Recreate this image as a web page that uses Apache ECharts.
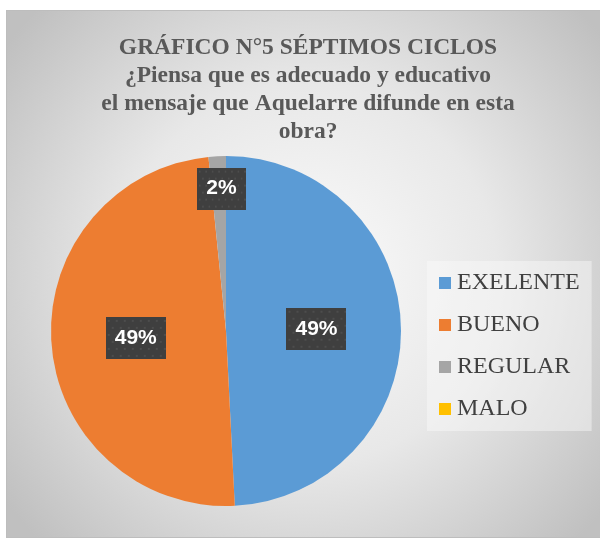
<!DOCTYPE html>
<html>
<head>
<meta charset="utf-8">
<script src="https://cdn.jsdelivr.net/npm/echarts@6/dist/echarts.min.js"></script>
<style>
html,body{margin:0;padding:0;background:#ffffff;width:600px;height:542px;overflow:hidden;}
#chart{position:absolute;left:6px;top:10px;width:604px;height:528px;border:1px solid #bdbdbd;box-sizing:border-box;}
</style>
</head>
<body>
<div id="chart"></div>
<script>
var titleLines = ['GRÁFICO N°5 SÉPTIMOS CICLOS', '¿Piensa que es adecuado y educativo', 'el mensaje que Aquelarre difunde en esta', 'obra?'];
var categories = ['EXELENTE', 'BUENO', 'REGULAR', 'MALO'];
var values = [49.2, 49.2, 1.6, 0];
var colors = ['#5B9BD5', '#ED7D31', '#A5A5A5', '#FFC000'];

function makePattern(w, h) {
  var c = document.createElement('canvas');
  c.width = w; c.height = h;
  var ctx = c.getContext('2d');
  ctx.fillStyle = '#3f3f3f';
  ctx.fillRect(0, 0, w, h);
  ctx.fillStyle = '#4d4d4d';
  for (var y = 3, r = 0; y < h; y += 7, r++) {
    for (var x = (r % 2 ? 6 : 2); x < w; x += 8) {
      ctx.fillRect(x, y, 2, 2);
    }
  }
  return c;
}
var pattern = makePattern(60, 42);

var chart = echarts.init(document.getElementById('chart'), null, {renderer: 'canvas'});

var data = categories.map(function (name, i) {
  var item = {name: name, value: values[i], itemStyle: {color: colors[i]}};
  if (values[i] === 0) item.label = {show: false};
  if (i === 2) item.label = {offset: [0, -52]};
  return item;
});

chart.setOption({
  backgroundColor: {
    type: 'radial', x: 0.5, y: 0.5, r: 0.72,
    colorStops: [
      {offset: 0, color: '#fbfbfb'},
      {offset: 0.5, color: '#e8e8e8'},
      {offset: 1, color: '#c0c0c0'}
    ]
  },
  animation: false,
  title: {
    text: titleLines.join('\n'),
    left: 'center',
    top: 18,
    textStyle: {
      fontFamily: 'Liberation Serif',
      fontWeight: 'bold',
      fontSize: 23.5,
      lineHeight: 28,
      color: '#595959'
    }
  },
  legend: {
    orient: 'vertical',
    left: 420,
    top: 250,
    padding: [10, 12, 10, 12],
    backgroundColor: 'rgba(250,250,250,0.45)',
    itemWidth: 12,
    itemHeight: 12,
    itemGap: 18,
    icon: 'rect',
    data: categories,
    textStyle: {
      fontFamily: 'Liberation Serif',
      fontSize: 24,
      lineHeight: 24,
      color: '#404040',
      padding: [0, 0, 0, 1]
    }
  },
  series: [{
    type: 'pie',
    center: [219, 320],
    radius: [0, 175],
    startAngle: 90,
    clockwise: true,
    silent: true,
    itemStyle: {borderWidth: 0},
    label: {
      show: true,
      position: 'inside',
      formatter: function (p) { return Math.round(p.percent) + '%'; },
      fontFamily: 'Liberation Sans',
      fontWeight: 'bold',
      fontSize: 21,
      lineHeight: 26,
      color: '#ffffff',
      padding: [8, 9, 8, 9],
      backgroundColor: {image: pattern},
      shadowBlur: 5,
      shadowColor: 'rgba(0,0,0,0.45)',
      shadowOffsetX: 2,
      shadowOffsetY: 3
    },
    labelLine: {show: false},
    data: data
  }]
});
</script>
</body>
</html>
